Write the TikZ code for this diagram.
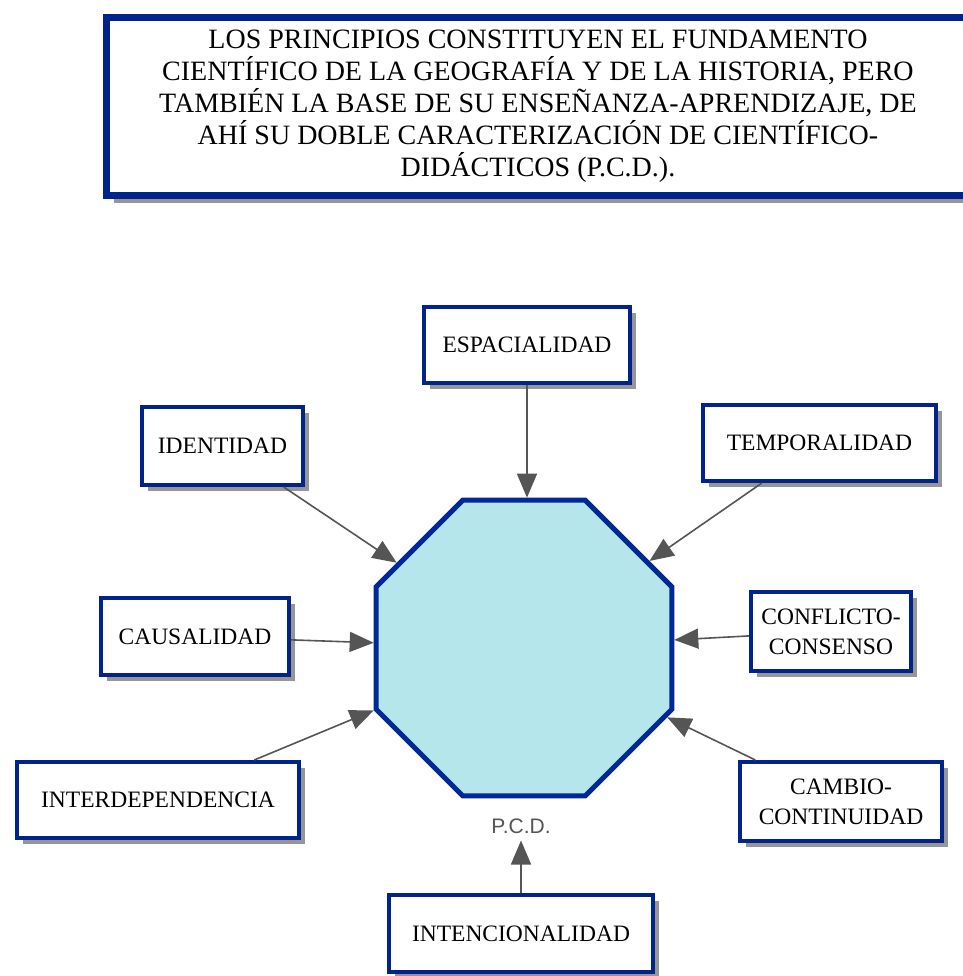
\documentclass[tikz,border=0pt]{standalone}
\usepackage{fontspec}
\setmainfont{Liberation Serif}
\newfontfamily\pcdfont{Liberation Sans}
\usetikzlibrary{shapes.geometric,shadows,arrows.meta}
\definecolor{boxblue}{RGB}{0,35,140}
\definecolor{octfill}{RGB}{180,230,236}
\definecolor{octline}{RGB}{0,40,150}
\definecolor{arrowgray}{RGB}{85,85,85}
\definecolor{shadowgray}{RGB}{150,150,150}
\begin{document}
\begin{tikzpicture}[x=0.5pt,y=-0.5pt,
        principio/.style={draw=boxblue,line width=2pt,fill=white,align=center,inner sep=2pt,
                          font=\fontsize{11.75}{15}\selectfont,
                          drop shadow={shadow xshift=3pt,shadow yshift=-3pt,fill=shadowgray,opacity=1}},
        flecha/.style={draw=arrowgray,line width=0.8pt,-{Triangle[length=12pt,width=10pt]}}]
        \useasboundingbox (0,0) rectangle (963,976);
        \node (tesis)            at (538,106) [draw=boxblue,line width=3.5pt,fill=white,minimum width=432pt,minimum height=89pt,
                                               align=center,font=\fontsize{14}{16}\selectfont,
                                               drop shadow={shadow xshift=4pt,shadow yshift=-4pt,fill=shadowgray,opacity=1}]
                                 {LOS PRINCIPIOS CONSTITUYEN EL FUNDAMENTO\\CIENTÍFICO DE LA GEOGRAFÍA Y DE LA HISTORIA, PERO\\TAMBIÉN LA BASE DE SU ENSEÑANZA-APRENDIZAJE, DE\\AHÍ SU DOBLE CARACTERIZACIÓN DE CIENTÍFICO-\\DIDÁCTICOS (P.C.D.).};
        \node (pcd)              at (524,648) [regular polygon,regular polygon sides=8,minimum size=160pt,draw=octline,line width=2.5pt,fill=octfill] {};
        \node (pcdtext)          at (521,826) [text=arrowgray,font=\pcdfont\fontsize{10.5}{12}\selectfont] {P.C.D.};
        \node (espacialidad)     at (527,345)   [principio,minimum width=103pt,minimum height=38pt]   {ESPACIALIDAD};
        \node (identidad)        at (222.5,446) [principio,minimum width=80.5pt,minimum height=39pt]  {IDENTIDAD};
        \node (temporalidad)     at (819.5,443) [principio,minimum width=116.5pt,minimum height=38pt] {TEMPORALIDAD};
        \node (causalidad)       at (195,636.5) [principio,minimum width=94pt,minimum height=38.5pt]  {CAUSALIDAD};
        \node (conflicto)        at (831,631.5) [principio,minimum width=80pt,minimum height=39.5pt]  {CONFLICTO-\\CONSENSO};
        \node (interdependencia) at (158,800)   [principio,minimum width=141pt,minimum height=38pt]   {INTERDEPENDENCIA};
        \node (cambio)           at (841,801.5) [principio,minimum width=101pt,minimum height=39.5pt] {CAMBIO-\\CONTINUIDAD};
        \node (intencionalidad)  at (521,933.5) [principio,minimum width=132pt,minimum height=38.5pt] {INTENCIONALIDAD};
        \draw[flecha] (espacialidad.south) -- (espacialidad.south |- pcd.north);
        \draw[flecha] (identidad)          -- (pcd);
        \draw[flecha] (temporalidad)       -- (pcd);
        \draw[flecha] (causalidad)         -- (pcd);
        \draw[flecha] (conflicto)          -- (pcd);
        \draw[flecha] (interdependencia)   -- (pcd);
        \draw[flecha] (cambio)             -- (pcd);
        \draw[flecha] (intencionalidad)    -- (pcdtext);
    \end{tikzpicture}
\end{document}
